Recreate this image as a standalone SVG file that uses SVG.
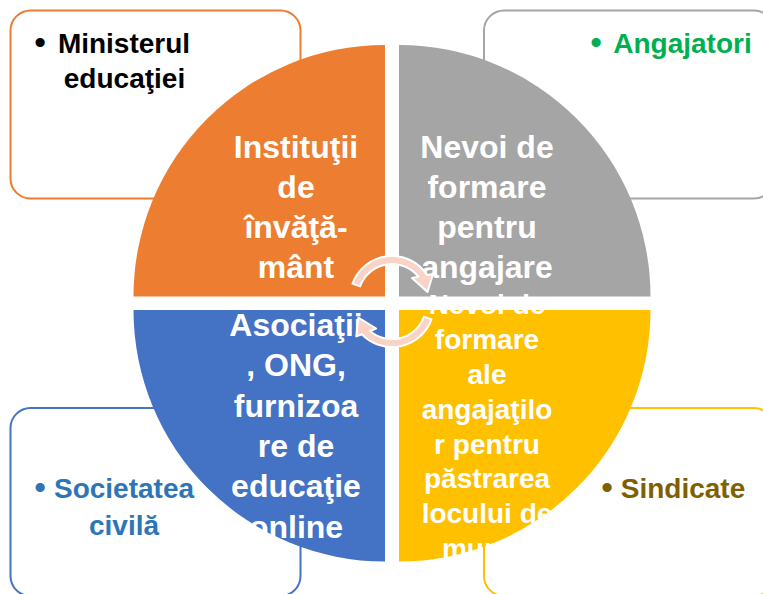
<svg xmlns="http://www.w3.org/2000/svg" width="763" height="594" viewBox="0 0 763 594">
<style>
.box{fill:#FFFFFF;stroke-width:2}
.bt{font-family:"Liberation Sans",Arial,sans-serif;font-weight:bold;font-size:28px}
.bul{font-size:32px}
.qt{font-family:"Liberation Sans",Arial,sans-serif;font-weight:bold;font-size:32px;fill:#FFFFFF;text-anchor:middle}
.qs{font-size:28px}
.arr{fill:#F8D3C6;stroke:#FFFFFF;stroke-width:2;stroke-linejoin:round}
</style>
<rect width="763" height="594" fill="#FFFFFF"/>
<g id="box-ministerul">
<rect class="box" x="10.5" y="10.5" width="290" height="188" rx="20" stroke="#ED7D31"/>
<text class="bt" fill="#000000"><tspan class="bul" x="40" y="53" text-anchor="middle">•</tspan><tspan x="124" y="53" text-anchor="middle">Ministerul</tspan><tspan x="124.5" y="88" text-anchor="middle">educaţiei</tspan></text>
</g>
<g id="box-angajatori">
<rect class="box" x="484" y="10.5" width="290" height="188" rx="20" stroke="#A5A5A5"/>
<text class="bt" fill="#00B050"><tspan class="bul" x="596" y="53" text-anchor="middle">•</tspan><tspan x="682.5" y="53" text-anchor="middle">Angajatori</tspan></text>
</g>
<g id="box-societatea">
<rect class="box" x="10.5" y="408" width="290" height="188" rx="20" stroke="#4472C4"/>
<text class="bt" fill="#2E75B6"><tspan class="bul" x="40" y="498" text-anchor="middle">•</tspan><tspan x="124" y="498" text-anchor="middle">Societatea</tspan><tspan x="124" y="535" text-anchor="middle">civilă</tspan></text>
</g>
<g id="box-sindicate">
<rect class="box" x="484" y="408" width="290" height="188" rx="20" stroke="#FFC000"/>
<text class="bt" fill="#7F6000"><tspan class="bul" x="607" y="498" text-anchor="middle">•</tspan><tspan x="683" y="498" text-anchor="middle">Sindicate</tspan></text>
</g>
<g id="q-institutii">
<path d="M385 296.5 L133.5 296.5 A251.5 251.5 0 0 1 385 45 Z" fill="#ED7D31"/>
<text class="qt"><tspan x="296" y="157.5">Instituţii</tspan><tspan x="296" y="197.5">de</tspan><tspan x="296" y="237.5">învăţă-</tspan><tspan x="296" y="277.5">mânt</tspan></text>
</g>
<g id="q-nevoi-angajare">
<path d="M399 296.5 L399 45 A251.5 251.5 0 0 1 650.5 296.5 Z" fill="#A5A5A5"/>
<text class="qt"><tspan x="487" y="157.5">Nevoi de</tspan><tspan x="487" y="197.5">formare</tspan><tspan x="487" y="237.5">pentru</tspan><tspan x="487" y="277.5">angajare</tspan></text>
</g>
<g id="q-asociatii">
<path d="M385 310 L385 561.5 A251.5 251.5 0 0 1 133.5 310 Z" fill="#4472C4"/>
<text class="qt"><tspan x="296" y="335.5">Asociaţii</tspan><tspan x="296" y="375.5">, ONG,</tspan><tspan x="296" y="416.5">furnizoa</tspan><tspan x="296" y="456.5">re de</tspan><tspan x="296" y="497">educaţie</tspan><tspan x="296" y="537.5">online</tspan></text>
</g>
<g id="q-nevoi-pastrare">
<path d="M399 310 L650.5 310 A251.5 251.5 0 0 1 399 561.5 Z" fill="#FFC000"/>
<text class="qt qs"><tspan x="487" y="314">Nevoi de</tspan><tspan x="487" y="348.5">formare</tspan><tspan x="487" y="383.5">ale</tspan><tspan x="487" y="418.5">angajaţilo</tspan><tspan x="487" y="453.5">r pentru</tspan><tspan x="487" y="488">păstrarea</tspan><tspan x="487" y="523">locului de</tspan><tspan x="487" y="558">muncă</tspan></text>
</g>
<g id="connectors">
<path class="arr" d="M352.5 283.6 A42 42 0 0 1 427.2 275.1 L433 274 L427.5 292 L412 278 L418.5 276.75 A34 34 0 0 0 360.05 286.4 Z"/>
<path class="arr" d="M431.5 319.4 A42 42 0 0 1 361.8 334.2 L356.3 336.4 L358.3 317.7 L376.2 328.5 L370 331 A34 34 0 0 0 424 316.6 Z"/>
</g>
</svg>
